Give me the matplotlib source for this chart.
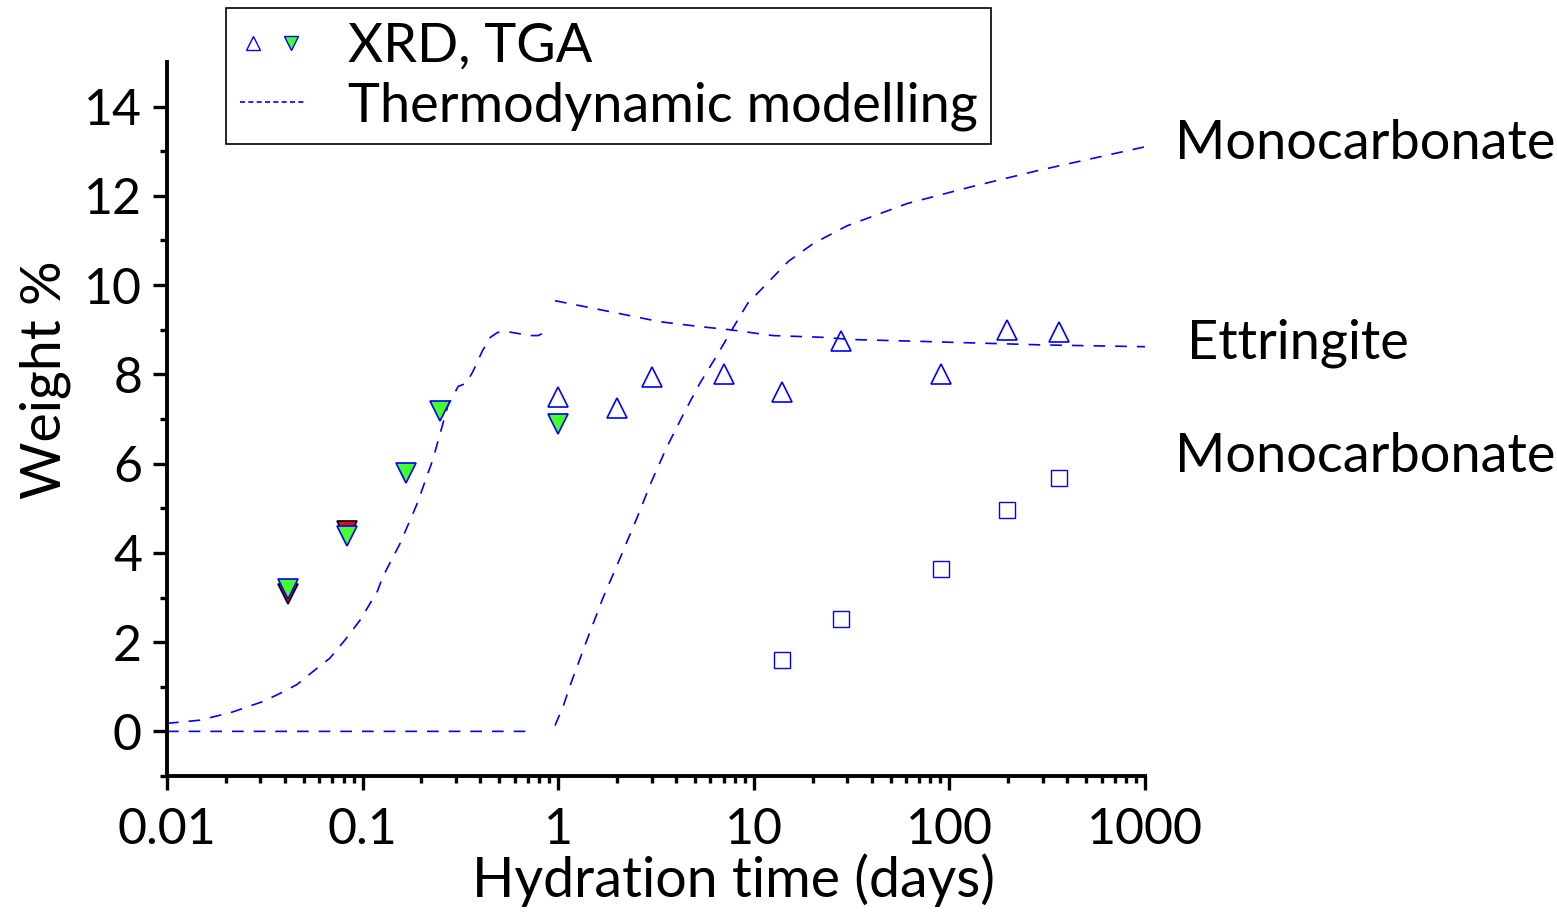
import numpy as np
import matplotlib
matplotlib.use("Agg")
import matplotlib.pyplot as plt
from matplotlib.lines import Line2D
from matplotlib.legend_handler import HandlerTuple
from matplotlib.ticker import FixedLocator, LogLocator, NullFormatter

plt.rcParams['font.family'] = ['Lato', 'DejaVu Sans']

# ---------------- data ----------------
# XRD ettringite (open up-triangles)
xrd_ett_x = [1, 2, 3, 7, 14, 28, 91, 196, 364]
xrd_ett_y = [7.5, 7.25, 7.95, 8.0, 7.6, 8.75, 8.0, 9.0, 8.95]

# TGA ettringite (green down-triangles)
tga_ett_x = [0.0417, 0.0833, 0.1667, 0.25, 1]
tga_ett_y = [3.18, 4.38, 5.78, 7.17, 6.88]

# second TGA series (red down-triangles, partly hidden)
tga2_x = [0.0417, 0.0833]
tga2_y = [3.07, 4.48]

# XRD monocarbonate (open squares)
xrd_mc_x = [14, 28, 91, 196, 364]
xrd_mc_y = [1.59, 2.51, 3.63, 4.97, 5.67]

# Thermodynamic modelling: ettringite
ett_mod_x = [0.01, 0.0147, 0.0215, 0.031, 0.0378, 0.0462, 0.0557, 0.068, 0.081,
             0.097, 0.119, 0.127, 0.155, 0.19, 0.229, 0.273, 0.308, 0.338, 0.366,
             0.41, 0.45, 0.49, 0.545, 0.718, 0.79, 0.87,
             np.nan,
             0.963, 1.29, 2.07, 3.31, 5.3, 7.55, 12.5, 22.6, 32, 71, 100, 300, 1000]
ett_mod_y = [0.18, 0.25, 0.43, 0.67, 0.85, 1.05, 1.34, 1.64, 2.04,
             2.49, 3.14, 3.47, 4.2, 5.1, 6.1, 7.3, 7.73, 7.8, 8.06,
             8.53, 8.83, 8.94, 8.96, 8.87, 8.87, 8.96,
             np.nan,
             9.65, 9.54, 9.36, 9.18, 9.07, 9.0, 8.87, 8.83, 8.78, 8.74, 8.72, 8.66, 8.62]

# Thermodynamic modelling: monocarbonate
mc_mod_x = [0.01, 0.72,
            np.nan,
            0.963, 1.06, 1.16, 1.40, 1.69, 2.07, 2.52, 3.0, 3.6, 4.38, 5.3, 6.47,
            7.8, 9.3, 11.7, 15, 20.1, 30, 61, 131, 285, 1000]
mc_mod_y = [0.0, 0.0,
            np.nan,
            0.13, 0.56, 1.07, 2.04, 2.98, 3.88, 4.77, 5.6, 6.38, 7.12, 7.8, 8.42,
            9.03, 9.59, 10.04, 10.53, 10.93, 11.33, 11.83, 12.21, 12.57, 13.1]

x_ticks = [0.01, 0.1, 1, 10, 100, 1000]
x_tick_labels = ["0.01", "0.1", "1", "10", "100", "1000"]
y_ticks = [0, 2, 4, 6, 8, 10, 12, 14]
y_minor = [-1, 1, 3, 5, 7, 9, 11, 13]

side_labels = ["Monocarbonate", "Ettringite", "Monocarbonate"]
side_label_x = [1420, 1640, 1420]
side_label_y = [13.17, 8.7, 6.16]

legend_labels = ["XRD, TGA", "Thermodynamic modelling"]

# ---------------- figure ----------------
W, H = 1557, 913
fig = plt.figure(figsize=(W / 100, H / 100), dpi=100)
ax = fig.add_axes([167 / W, 1 - 776 / H, (1145 - 167) / W, (776 - 62) / H])

blue = '#0000ff'
green = '#44ff2a'
dash = (0, (7, 6))

ax.plot(ett_mod_x, ett_mod_y, color=blue, lw=1.2, ls=dash)
ax.plot(mc_mod_x, mc_mod_y, color=blue, lw=1.2, ls=dash)

ax.plot(tga2_x, tga2_y, ls='none', marker='v', ms=14, mfc='red', mec='black', mew=1.2)
ax.plot(tga_ett_x, tga_ett_y, ls='none', marker='v', ms=14, mfc=green, mec=blue, mew=1.2)
ax.plot(xrd_ett_x, xrd_ett_y, ls='none', marker='^', ms=14, mfc='none', mec=blue, mew=1.2)
ax.plot(xrd_mc_x, xrd_mc_y, ls='none', marker='s', ms=11, mfc='none', mec=blue, mew=1.0)

ax.set_xscale('log')
ax.set_xlim(0.01, 1000)
ax.set_ylim(-1, 15)

ax.set_xticks(x_ticks)
ax.set_xticklabels(x_tick_labels)
ax.xaxis.set_minor_locator(LogLocator(base=10, subs=np.arange(2, 10)))
ax.xaxis.set_minor_formatter(NullFormatter())
ax.set_yticks(y_ticks)
ax.yaxis.set_minor_locator(FixedLocator(y_minor))

for s in ['top', 'right']:
    ax.spines[s].set_visible(False)
for s in ['left', 'bottom']:
    ax.spines[s].set_linewidth(2.8)

ax.tick_params(axis='both', which='major', direction='out', length=10, width=2.4,
               labelsize=36)
ax.tick_params(axis='x', which='major', pad=12)
ax.tick_params(axis='y', which='major', pad=8)
ax.tick_params(axis='both', which='minor', direction='out', length=5, width=2.4)

ax.set_xlabel("Hydration time (days)", fontsize=40, va='center')
ax.set_ylabel("Weight %", fontsize=40, va='center')
ax.xaxis.set_label_coords((733 - 167) / (1145 - 167), -(880 - 776) / (776 - 62))
ax.yaxis.set_label_coords(-(167 - 45) / (1145 - 167), (776 - 380) / (776 - 62))

for s, xx, yy in zip(side_labels, side_label_x, side_label_y):
    ax.text(xx, yy, s, fontsize=39, ha='left', va='center', clip_on=False)

up = Line2D([], [], ls='none', marker='^', ms=10, mfc='none', mec=blue, mew=1.0)
dn = Line2D([], [], ls='none', marker='v', ms=10, mfc=green, mec=blue, mew=1.0)
ln = Line2D([], [], color=blue, lw=1.2, ls=(0, (3, 2)))
leg = fig.legend([(up, dn), ln], legend_labels,
                 handler_map={tuple: HandlerTuple(ndivide=None, pad=0.2)},
                 loc='upper left', bbox_to_anchor=(226 / W, 1 - 8 / H),
                 borderaxespad=0, frameon=True, fancybox=False,
                 edgecolor='black', framealpha=1, fontsize=39,
                 handlelength=1.2, handletextpad=0.8, borderpad=0.25,
                 labelspacing=0.2)
leg.get_frame().set_linewidth(1.2)

fig.savefig("out.png", dpi=100)
